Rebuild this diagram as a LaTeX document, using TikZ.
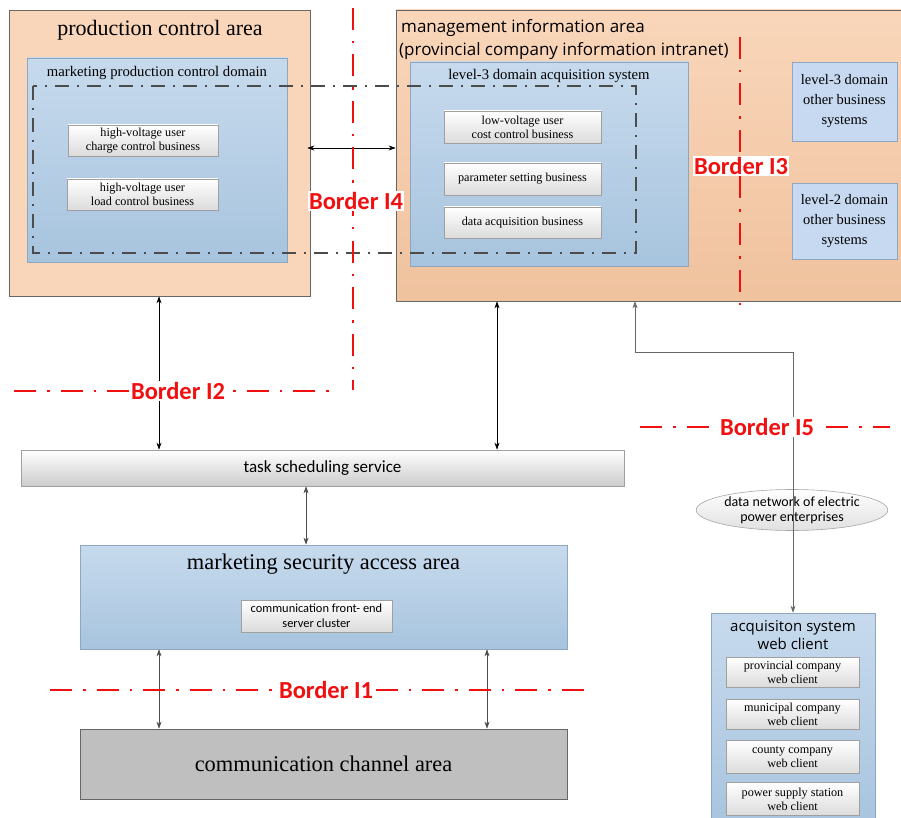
\documentclass[tikz,border=0pt]{standalone}
\usepackage{fontspec}
\setmainfont{Liberation Serif}
\newfontfamily\carl{Carlito}
\newfontfamily\opens{Open Sans}
\usetikzlibrary{arrows.meta,shapes.geometric}
\definecolor{peach}{HTML}{F9D6BA}
\definecolor{peachB}{HTML}{F0C29E}
\definecolor{blueT}{HTML}{C7DAED}
\definecolor{blueB}{HTML}{A7C4DE}
\definecolor{lblue}{HTML}{C6D9F0}
\definecolor{bedge}{HTML}{8EA6BF}
\definecolor{gedge}{HTML}{A0A0A0}
\definecolor{dkgray}{HTML}{BFBFBF}
\definecolor{bred}{HTML}{F01010}
\tikzset{
  area/.style={draw=gray!80!black, line width=0.7pt, inner sep=0pt},
  bluebox/.style={draw=bedge, line width=0.7pt, top color=blueT, bottom color=blueB, inner sep=0pt},
  graybox/.style={draw=gedge, line width=0.7pt, top color=white, bottom color=black!14, inner sep=1pt, align=center},
  smalltxt/.style={font=\fontsize{12.2}{14}\selectfont},
  redline/.style={draw=bred, line width=2.7pt, dash pattern=on 22pt off 11pt on 2.5pt off 11pt},
  blabel/.style={text=bred, font=\carl\bfseries\fontsize{24.5}{28}\selectfont, fill=white, inner sep=1pt},
  dbl/.style={{Stealth[length=7pt,width=5pt]}-{Stealth[length=7pt,width=5pt]}, line width=0.5pt},
  gdbl/.style={{Stealth[length=7pt,width=5pt]}-{Stealth[length=7pt,width=5pt]}, line width=0.5pt, draw=gray!80!black, color=gray!60!black},
}
\begin{document}
\begin{tikzpicture}[x=1pt,y=-1pt]
\useasboundingbox (0,0) rectangle (901,818);
% production control area
\node[area, fill=peach, minimum width=301pt, minimum height=286pt] (pca) at (159.5,153) {};
\node[font=\fontsize{22}{26}\selectfont] (pcat) at (160,30) {production control area};
\node[bluebox, minimum width=260pt, minimum height=204pt] (mpcd) at (157,160) {};
\node[font=\fontsize{14.7}{17}\selectfont] (mpcdt) at (157,73) {marketing production control domain};
\node[graybox, smalltxt, minimum width=150pt, minimum height=31pt] (hv1) at (143,140.5) {high-voltage user\\charge control business};
\node[graybox, smalltxt, minimum width=151pt, minimum height=31pt] (hv2) at (142.5,194.5) {high-voltage user\\load control business};
% management information area
\node[area, top color=peach, bottom color=peachB, minimum width=510pt, minimum height=291pt] (mia) at (651,155.5) {};
\node[anchor=west, font=\opens\fontsize{17}{20}\selectfont, inner sep=0pt] (miat1) at (401,28) {management information area};
\node[anchor=west, font=\opens\fontsize{17}{20}\selectfont, inner sep=0pt] (miat2) at (399,51) {(provincial company information intranet)};
\node[bluebox, minimum width=278pt, minimum height=204pt] (l3) at (549,164) {};
\node[font=\fontsize{14.7}{17}\selectfont] (l3t) at (549,76) {level-3 domain acquisition system};
\node[graybox, smalltxt, minimum width=157pt, minimum height=32pt] (lv) at (522.5,127) {low-voltage user\\cost control business};
\node[graybox, smalltxt, minimum width=157pt, minimum height=32pt] (ps) at (522.5,179) {parameter setting business};
\node[graybox, smalltxt, minimum width=157pt, minimum height=31pt] (da) at (522.5,222.5) {data acquisition business};
\node[draw=bedge, line width=0.7pt, fill=lblue, minimum width=105pt, minimum height=79pt, align=center, font=\fontsize{14.5}{20}\selectfont] (l3o) at (844.5,101.5) {level-3 domain\\other business\\systems};
\node[draw=bedge, line width=0.7pt, fill=lblue, minimum width=105pt, minimum height=76pt, align=center, font=\fontsize{14.5}{20}\selectfont] (l2o) at (844.5,221) {level-2 domain\\other business\\systems};
% dash-dot enclosure
\draw[draw=black!70, line width=1.7pt, dash pattern=on 14pt off 8pt on 2pt off 8pt] (33,86) rectangle (636,253);
% task scheduling
\node[graybox, bottom color=black!20, minimum width=603pt, minimum height=36pt, font=\carl\fontsize{17}{20}\selectfont] (tss) at (322.5,468) {task scheduling service};
% marketing security access area
\node[bluebox, minimum width=487pt, minimum height=104pt] (msaa) at (323.5,597) {};
\node[font=\fontsize{22.4}{26}\selectfont] (msaat) at (323.5,564) {marketing security access area};
\node[graybox, minimum width=151pt, minimum height=32pt, font=\carl\fontsize{12.4}{15}\selectfont] (cfe) at (316.5,616) {communication front- end\\server cluster};
% communication channel area
\node[draw=gray!80!black, line width=0.7pt, fill=dkgray, minimum width=487pt, minimum height=70pt, font=\fontsize{22.4}{26}\selectfont] (cca) at (323.5,764) {communication channel area};
% acquisition web client
\node[bluebox, minimum width=164pt, minimum height=215pt] (aswc) at (793,720.5) {};
\node[font=\opens\fontsize{15}{17.5}\selectfont, align=center] (aswct) at (793,635) {acquisiton system\\web client};
\node[graybox, smalltxt, minimum width=133pt, minimum height=30pt] (pcw) at (792.5,672) {provincial company\\web client};
\node[graybox, smalltxt, minimum width=133pt, minimum height=30pt] (mcw) at (792.5,714) {municipal company\\web client};
\node[graybox, smalltxt, minimum width=133pt, minimum height=33pt] (ccw) at (792.5,757) {county company\\web client};
\node[graybox, smalltxt, minimum width=133pt, minimum height=33pt] (psw) at (792.5,799) {power supply station\\web client};
% ellipse
\node[ellipse, draw=gray!70, line width=0.6pt, top color=white, bottom color=black!12, minimum width=178pt, minimum height=41pt, inner sep=0pt, align=center, font=\carl\fontsize{14}{15}\selectfont] (dn) at (792,510) {data network of electric\\power enterprises};
% coordinates for connectors
\coordinate (x497) at (497,0);
\coordinate (x306) at (306,0);
\coordinate (x159) at (159,0);
\coordinate (x487) at (487,0);
\coordinate (x635) at (635,0);
\coordinate (y148) at (0,148);
\coordinate (y352) at (0,352);
% connectors
\draw[dbl] (pca.south -| x159) -- (tss.north -| x159);
\draw[dbl] (mia.south -| x497) -- (tss.north -| x497);
\draw[gdbl] (tss.south -| x306) -- (msaa.north -| x306);
\draw[gdbl] (msaa.south -| x159) -- (cca.north -| x159);
\draw[gdbl] (msaa.south -| x487) -- (cca.north -| x487);
\draw[dbl] (pca.east |- y148) ++(-3,0) -- (mia.west |- y148);
\draw[{Stealth[length=7pt,width=5pt]}-{Stealth[length=7pt,width=5pt]}, draw=gray!80!black, line width=0.6pt] (mia.south -| x635) -- (x635 |- y352) -- (aswc.north |- y352) -- (aswc.north);
% red borders
\coordinate (i4a) at (353,8); \coordinate (i4b) at (353,390);
\draw[redline] (i4a) -- (i4b);
\node[blabel] (bi4) at (356,201) {Border I4};
\coordinate (i3a) at (740,37); \coordinate (i3b) at (740,305);
\draw[redline] (i3a) -- (i3b);
\node[blabel] (bi3) at (741,166) {Border I3};
\coordinate (i2a) at (14,391); \coordinate (i2b) at (330,391);
\draw[redline] (i2a) -- (i2b);
\node[blabel] (bi2) at (178,391) {Border I2};
\coordinate (i5a) at (640,427); \coordinate (i5b) at (890,427);
\draw[redline] (i5a) -- (i5b);
\node[blabel] (bi5) at (767,427) {Border I5};
\coordinate (i1a) at (50,690); \coordinate (i1b) at (590,690);
\draw[redline] (i1a) -- (i1b);
\node[blabel] (bi1) at (326,690) {Border I1};
\end{tikzpicture}
\end{document}
